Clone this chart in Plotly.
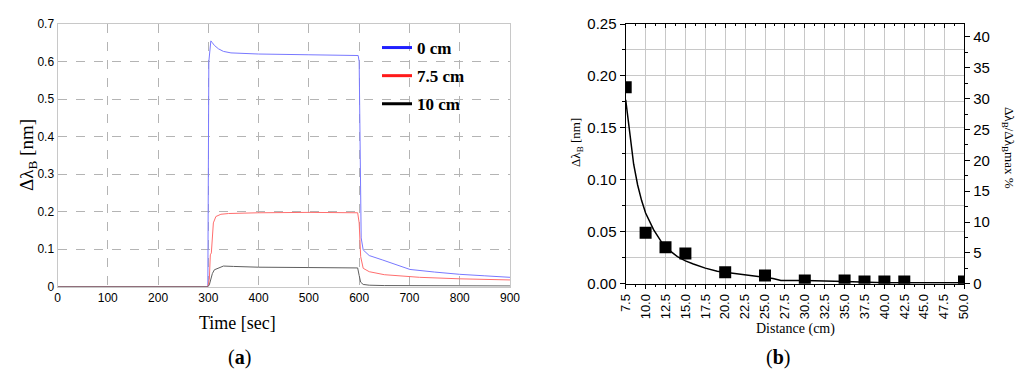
import plotly.graph_objects as go

# ---------------- Panel (a): time response ----------------
t_blue = [0, 299, 301, 303, 305, 308, 312, 320, 330, 345, 370, 400, 500, 598, 600, 602, 604, 608, 620, 647, 680, 701, 750, 800, 850, 900]
v_blue = [0, 0, 0.60, 0.640, 0.655, 0.650, 0.643, 0.634, 0.627, 0.623, 0.621, 0.620, 0.618, 0.616, 0.60, 0.30, 0.13, 0.098, 0.083, 0.071, 0.055, 0.046, 0.039, 0.033, 0.029, 0.025]

t_red = [0, 299, 302, 304, 306, 310, 315, 325, 340, 400, 500, 597, 600, 603, 608, 620, 650, 681, 720, 800, 900]
v_red = [0, 0, 0.02, 0.085, 0.09, 0.17, 0.187, 0.193, 0.195, 0.197, 0.198, 0.197, 0.17, 0.08, 0.049, 0.040, 0.032, 0.0285, 0.025, 0.021, 0.018]

t_black = [0, 299, 302, 305, 308, 312, 320, 330, 350, 400, 500, 597, 600, 603, 608, 620, 650, 700, 800, 900]
v_black = [0, 0, 0.005, 0.02, 0.035, 0.045, 0.05, 0.055, 0.054, 0.052, 0.051, 0.05, 0.03, 0.012, 0.006, 0.004, 0.003, 0.003, 0.002, 0.002]

legend_names = ["0 cm", "7.5 cm", "10 cm"]
legend_colors = ["#2020ff", "#ff1a1a", "#000000"]
trace_colors = ["rgb(120,120,255)", "rgb(255,110,110)", "rgb(95,95,95)"]

# ---------------- Panel (b): distance dependence ----------------
dist = [7.5, 10.0, 12.5, 15.0, 20.0, 25.0, 30.0, 35.0, 37.5, 40.0, 42.5, 50.0]
shift = [0.189, 0.049, 0.035, 0.029, 0.011, 0.008, 0.003, 0.003, 0.002, 0.002, 0.002, 0.002]

dist_fit = [7.5, 8.0, 8.5, 9.0, 9.5, 10.0, 11.0, 12.0, 13.0, 14.0, 15.0, 16.0, 17.5, 19.0, 20.0, 22.0, 24.0, 26.0, 27.0, 30.0, 35.0, 40.0, 45.0, 50.0]
fit = [0.177, 0.145, 0.115, 0.095, 0.080, 0.068, 0.052, 0.040, 0.032, 0.026, 0.022, 0.019, 0.015, 0.012, 0.011, 0.009, 0.007, 0.005, 0.003, 0.003, 0.002, 0.001, 0.001, 0.001]

x_ticks_b = [7.5 + 2.5 * i for i in range(18)]

SERIF = "Liberation Serif"
SANS = "Liberation Sans"
W, H, OFF = 1024, 378, 8  # page body margin offsets the figure by 8px


def px(x):
    return (x - OFF) / W


def py(y):
    return 1 - (y - OFF) / H


fig = go.Figure()
for t, v, c in [(t_blue, v_blue, trace_colors[0]), (t_red, v_red, trace_colors[1]), (t_black, v_black, trace_colors[2])]:
    fig.add_trace(go.Scatter(x=t, y=v, mode="lines", line=dict(color=c, width=1),
                             showlegend=False, xaxis="x", yaxis="y", hoverinfo="skip"))
for i, (n, c) in enumerate(zip(legend_names, legend_colors)):
    fig.add_trace(go.Scatter(x=[None], y=[None], mode="lines", name="<b>" + n + "</b>", legendgroup=str(i),
                             line=dict(color=c, width=3), xaxis="x", yaxis="y"))

fig.add_trace(go.Scatter(x=dist_fit, y=fit, mode="lines", line=dict(color="black", width=1.5),
                         showlegend=False, xaxis="x2", yaxis="y2"))
fig.add_trace(go.Scatter(x=dist, y=shift, mode="markers",
                         marker=dict(symbol="square", size=12, color="black"),
                         showlegend=False, xaxis="x2", yaxis="y2"))
fig.add_trace(go.Scatter(x=[None], y=[None], showlegend=False, xaxis="x2", yaxis="y3"))
fig.add_trace(go.Scatter(x=[None], y=[None], showlegend=False, xaxis="x3", yaxis="y2"))

fig.update_layout(
    width=W, height=H, margin=dict(l=0, r=0, t=0, b=0, autoexpand=False),
    paper_bgcolor="white", plot_bgcolor="white",
    showlegend=True,
    legend=dict(x=px(377), y=py(30), xanchor="left", yanchor="top", bgcolor="rgba(0,0,0,0)",
                font=dict(family=SERIF, size=17, color="black"), tracegroupgap=3,
                itemwidth=30),
    xaxis=dict(domain=[px(57.5), px(510)], range=[0, 900], dtick=100, anchor="y",
               showgrid=True, gridcolor="#b4b4b4", griddash="dash", gridwidth=1,
               showline=True, linecolor="#c8c8c8", mirror=True, zeroline=False, ticks="",
               tickfont=dict(family=SANS, size=12, color="black")),
    yaxis=dict(domain=[py(286.7), py(24)], range=[0, 0.7], dtick=0.1, anchor="x",
               showgrid=True, gridcolor="#b4b4b4", griddash="dash", gridwidth=1,
               showline=True, linecolor="#c8c8c8", mirror=True, zeroline=False, ticks="",
               tickfont=dict(family=SANS, size=12, color="black")),
    xaxis2=dict(domain=[px(625.7), px(964)], range=[7.5, 50], tickvals=x_ticks_b, tickformat=".1f",
                tickangle=-90, anchor="y2", showgrid=True, gridcolor="#c8c8c8",
                showline=True, linecolor="black", linewidth=1.3, zeroline=False,
                ticks="outside", ticklen=4, tickcolor="black",
                minor=dict(dtick=1.25, tick0=7.5, ticks="outside", ticklen=2, tickcolor="black"),
                tickfont=dict(family=SANS, size=13, color="black")),
    xaxis3=dict(domain=[px(625.7), px(964)], range=[7.5, 50], tickvals=x_ticks_b, overlaying="x2",
                side="top", anchor="y2", showgrid=False, showticklabels=False,
                showline=True, linecolor="black", linewidth=1.3, zeroline=False,
                ticks="inside", ticklen=4, tickcolor="black",
                minor=dict(dtick=1.25, tick0=7.5, ticks="inside", ticklen=2, tickcolor="black")),
    yaxis2=dict(domain=[py(283.7), py(24)], range=[0, 0.25], dtick=0.05, tickformat=".2f",
                anchor="x2", showgrid=True, gridcolor="#c8c8c8",
                showline=True, linecolor="black", linewidth=1.3, zeroline=False,
                ticks="outside", ticklen=5, tickcolor="black",
                minor=dict(dtick=0.025, showgrid=True, gridcolor="#c8c8c8", ticks="outside",
                           ticklen=3, tickcolor="black"),
                tickfont=dict(family=SANS, size=15, color="black")),
    yaxis3=dict(range=[0, 42.1], dtick=5, overlaying="y2", side="right", anchor="x2",
                showgrid=False, showline=True, linecolor="black", linewidth=1.3, zeroline=False,
                ticks="outside", ticklen=5, tickcolor="black",
                minor=dict(dtick=2.5, ticks="outside", ticklen=3, tickcolor="black"),
                tickfont=dict(family=SANS, size=15, color="black")),
)

ann = [
    dict(text="Δλ<sub>B</sub> [nm]", x=28, y=155, textangle=-90, size=19),
    dict(text="Time [sec]", x=237, y=323, textangle=0, size=18),
    dict(text="(<b>a</b>)", x=239, y=357, textangle=0, size=20),
    dict(text="Δλ<sub>B</sub> [nm]", x=576, y=143, textangle=-90, size=13),
    dict(text="Δλ<sub>B</sub>/Δλ<sub>B</sub>max %", x=1009, y=148, textangle=90, size=13),
    dict(text="Distance (cm)", x=795, y=329, textangle=0, size=14),
    dict(text="(<b>b</b>)", x=778, y=357, textangle=0, size=20),
]
for a in ann:
    fig.add_annotation(text=a["text"], xref="paper", yref="paper",
                       x=px(a["x"]), y=py(a["y"]), xanchor="center", yanchor="middle",
                       textangle=a["textangle"], showarrow=False,
                       font=dict(family=SERIF, size=a["size"], color="black"))

fig.write_html("out.html")
